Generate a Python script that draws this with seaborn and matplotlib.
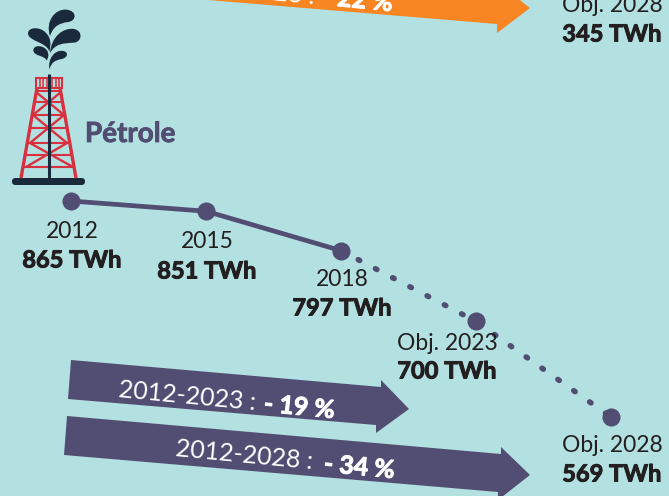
import matplotlib
matplotlib.use("Agg")
import matplotlib.pyplot as plt
import matplotlib.patheffects as pe
import pandas as pd
import seaborn as sns
from matplotlib.patches import FancyBboxPatch, PathPatch, Polygon, Rectangle
from matplotlib.path import Path

# data
rank_real = [0, 1, 2]
twh_real = [865, 851, 797]
rank_obj = [2, 3, 4]
twh_obj = [797, 700, 569]
years = ["2012", "2015", "2018", "Obj. 2023", "Obj. 2028"]
twh_labels = ["865 TWh", "851 TWh", "797 TWh", "700 TWh", "569 TWh"]

bg = "#B3E0E0"
purple = "#524D73"
orange = "#F78521"
navy = "#1A2A3C"
red = "#D9303F"
ink = "#231F20"

sns.set_theme(style="white")
plt.rcParams["font.family"] = ["Lato", "DejaVu Sans"]

fig = plt.figure(figsize=(6.69, 4.96), dpi=100, facecolor=bg)

# pixel layer for the drawing around the chart
pix = fig.add_axes([0, 0, 1, 1], facecolor=bg)
pix.set_xlim(0, 669)
pix.set_ylim(496, 0)
pix.axis("off")

# arrows
pix.add_patch(Polygon([(71, 360), (381, 387), (381, 380), (409, 409), (376, 433), (376, 425), (68, 399)], color=purple, lw=0))
pix.add_patch(Polygon([(67, 416), (501, 454), (501, 447), (530, 475), (498, 500), (498, 492), (64, 455)], color=purple, lw=0))
pix.add_patch(Polygon([(208, 0), (497, 24), (497, 33), (530, 8), (497, -18), (497, -12), (208, -38)], color=orange, lw=0))

heavy = [pe.withStroke(linewidth=0.7, foreground=ink)]
heavy_w = [pe.withStroke(linewidth=0.7, foreground="white")]


def arrow_text(x, y, plain, bold, x2, y2):
    pix.text(x, y, plain, color="white", fontsize=18, rotation=-5.5,
             rotation_mode="anchor", ha="left", va="center")
    pix.text(x2, y2, bold, color="white", fontsize=18, fontweight="bold", rotation=-5.5,
             rotation_mode="anchor", ha="left", va="center", path_effects=heavy_w)


arrow_text(119, 390, "2012-2023 :", "- 19 %", 264, 404)
arrow_text(176, 449, "2012-2028 :", "- 34 %", 324, 464)
arrow_text(178, -16, "2012-2028 :", "- 22 %", 322, -3)

# derrick
for xs, ys in [([37, 21], [88, 178]), ([60, 76], [88, 178])]:
    pix.plot(xs, ys, color=red, lw=2.4, solid_capstyle="butt")
for y, x0, x1 in [(91, 37, 60), (102, 35, 62), (115, 33, 64), (128, 31, 66), (143, 28, 69), (155, 26, 71), (167, 24, 73)]:
    pix.plot([x0, x1], [y, y], color=red, lw=1.5, solid_capstyle="butt")
for (x0, y0), (x1, y1) in [((36, 92), (64, 115)), ((61, 92), (33, 115)), ((33, 115), (67, 143)), ((64, 115), (30, 143)),
                           ((30, 143), (73, 167)), ((67, 143), (26, 167))]:
    pix.plot([x0, x1], [y0, y1], color=red, lw=1.7, solid_capstyle="butt")
pix.add_patch(Rectangle((36, 78), 26, 10, fill=False, ec=red, lw=1.5))
for x in [39.5, 43, 46.5, 52, 55.5, 59]:
    pix.plot([x, x], [79, 87], color=red, lw=1.1)
pix.plot([48.7, 48.7], [74, 178], color=navy, lw=2.2, solid_capstyle="butt")
pix.add_patch(FancyBboxPatch((12, 178), 73, 7, boxstyle="round,pad=0,rounding_size=3.5", fc=navy, ec=navy, lw=0))

# oil plume, coordinates read at 3x
drops = [
    [(150, 108), (135, 65), (165, 25), (200, 29), (232, 33), (230, 62), (205, 66), (175, 70), (160, 80), (150, 108)],
    [(148, 155), (140, 125), (85, 125), (84, 100), (84, 80), (122, 80), (137, 98), (152, 112), (154, 130), (148, 155)],
    [(150, 160), (153, 110), (190, 82), (222, 87), (250, 92), (246, 126), (222, 128), (190, 130), (165, 130), (150, 160)],
    [(140, 182), (135, 165), (100, 170), (100, 150), (102, 132), (135, 136), (143, 155), (147, 165), (145, 172), (140, 182)],
    [(148, 208), (143, 175), (165, 148), (190, 153), (208, 157), (202, 174), (185, 177), (165, 181), (155, 186), (148, 208)],
]
for d in drops:
    verts = [(x / 3, y / 3) for x, y in d]
    codes = [Path.MOVETO] + [Path.CURVE4] * 9
    pix.add_patch(PathPatch(Path(verts, codes), fc=navy, ec="none"))

pix.text(85, 134, "Pétrole", color=purple, fontsize=20, fontweight="bold", ha="left", va="center",
         path_effects=[pe.withStroke(linewidth=0.6, foreground=purple)])

# chart layer, x is an even rank and y is TWh
ax = fig.add_axes([0, 0, 1, 1], facecolor="none")

real = pd.DataFrame({"rank": rank_real, "twh": twh_real})
obj = pd.DataFrame({"rank": rank_obj, "twh": twh_obj})
sns.lineplot(data=obj, x="rank", y="twh", ax=ax, color=purple, lw=4,
             linestyle=(0, (0.3, 3.2)), dash_capstyle="round")
sns.lineplot(data=real, x="rank", y="twh", ax=ax, color=purple, lw=3.4)
sns.scatterplot(data=pd.concat([real, obj.iloc[1:]]), x="rank", y="twh", ax=ax,
                color=purple, s=170, linewidth=0, zorder=5)
ax.set_xlim(-71 / 135, 598 / 135)
ax.set_ylim(865 - 295 / 0.73, 865 + 201 / 0.73)
ax.axis("off")

# labels sit above the chart layer
top = fig.add_axes([0, 0, 1, 1], facecolor="none")
top.set_xlim(0, 669)
top.set_ylim(496, 0)
top.axis("off")
label_x = [72, 207, 342, 447, 612]
year_y = [231, 242, 279, 343, 446]
value_y = [260, 271, 308, 371, 474]
for i in range(len(years)):
    top.text(label_x[i], year_y[i], years[i], color=ink, fontsize=16.5, ha="center", va="center")
    top.text(label_x[i], value_y[i], twh_labels[i], color=ink, fontsize=17, fontweight="bold", ha="center", va="center", path_effects=heavy)
top.text(612, 5, "Obj. 2028", color=ink, fontsize=16.5, ha="center", va="center")
top.text(612, 34, "345 TWh", color=ink, fontsize=17, fontweight="bold", ha="center", va="center", path_effects=heavy)

fig.savefig("out.png", dpi=100, facecolor=bg)
